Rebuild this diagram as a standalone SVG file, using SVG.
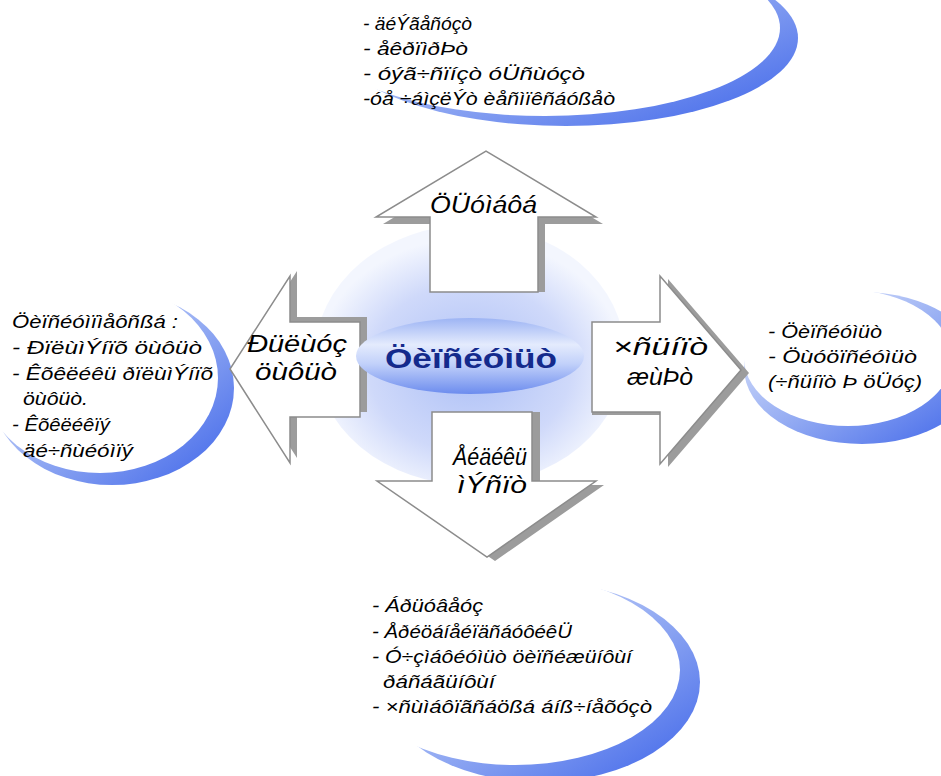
<svg xmlns="http://www.w3.org/2000/svg" width="941" height="776" viewBox="0 0 941 776">
<defs>
<linearGradient id="cres" x1="0" y1="0" x2="1" y2="1">
<stop offset="0" stop-color="#eef2fd"/>
<stop offset="0.5" stop-color="#97aef3"/>
<stop offset="1" stop-color="#3c63e9"/>
</linearGradient>
<radialGradient id="glow" cx="50%" cy="55%" r="50%">
<stop offset="0" stop-color="#adc0f6"/>
<stop offset="0.65" stop-color="#cfd9fa"/>
<stop offset="1" stop-color="#f3f6fe"/>
</radialGradient>
<linearGradient id="core" x1="0" y1="0" x2="0" y2="1">
<stop offset="0" stop-color="#9db4f4"/>
<stop offset="0.35" stop-color="#e4ebfd"/>
<stop offset="0.6" stop-color="#c2d1fa"/>
<stop offset="1" stop-color="#6c8cee"/>
</linearGradient>
<style>
.cb{fill:url(#cres)}
.cw{fill:#fff}
.shd{fill:#9c9c9c}
.face{fill:#fff;stroke:#8c8c8c;stroke-width:1.5;stroke-linejoin:miter}
.t{font-family:"Liberation Sans",Arial,sans-serif;font-style:italic;font-size:19px;fill:#000}
.a{font-family:"Liberation Sans",Arial,sans-serif;font-style:italic;font-size:23px;fill:#000}
.c{font-family:"Liberation Sans",Arial,sans-serif;font-weight:bold;font-size:28px;fill:#142a8c}
</style>
</defs>
<rect width="941" height="776" fill="#fff"/>

<g id="cloud-top">
<ellipse class="cb" cx="566" cy="38" rx="232" ry="88"/>
<ellipse class="cw" cx="545" cy="28" rx="235" ry="88"/>
<text class="t" x="363" y="30" textLength="109" lengthAdjust="spacingAndGlyphs">- äéÝãåñóçò</text>
<text class="t" x="363" y="55" textLength="105" lengthAdjust="spacingAndGlyphs">- åêðïìðÞò</text>
<text class="t" x="363" y="80" textLength="222" lengthAdjust="spacingAndGlyphs">- óýã÷ñïíçò óÜñùóçò</text>
<text class="t" x="363" y="105" textLength="252" lengthAdjust="spacingAndGlyphs">-óå ÷áìçëÝò èåñìïêñáóßåò</text>
</g>

<g id="cloud-left">
<ellipse class="cb" cx="112" cy="388" rx="122" ry="97"/>
<ellipse class="cw" cx="100" cy="378" rx="118" ry="95"/>
<text class="t" x="12" y="328" textLength="166" lengthAdjust="spacingAndGlyphs">Öèïñéóìïìåôñßá :</text>
<text class="t" x="12" y="354" textLength="190" lengthAdjust="spacingAndGlyphs">- ÐïëùìÝíïõ öùôüò</text>
<text class="t" x="12" y="380" textLength="201" lengthAdjust="spacingAndGlyphs">- Êõêëéêü ðïëùìÝíïõ</text>
<text class="t" x="23" y="405" textLength="65" lengthAdjust="spacingAndGlyphs">öùôüò.</text>
<text class="t" x="12" y="431" textLength="98" lengthAdjust="spacingAndGlyphs">- Êõêëéêïý</text>
<text class="t" x="23" y="457" textLength="110" lengthAdjust="spacingAndGlyphs">äé÷ñùéóìïý</text>
</g>

<g id="cloud-right">
<ellipse class="cb" cx="862" cy="368" rx="118" ry="76"/>
<ellipse class="cw" cx="848" cy="358" rx="104" ry="68"/>
<text class="t" x="768" y="338" textLength="114" lengthAdjust="spacingAndGlyphs">- Öèïñéóìüò</text>
<text class="t" x="768" y="363" textLength="149" lengthAdjust="spacingAndGlyphs">- Öùóöïñéóìüò</text>
<text class="t" x="768" y="388" textLength="154" lengthAdjust="spacingAndGlyphs">(÷ñüíïò Þ öÜóç)</text>
</g>

<g id="cloud-bottom">
<ellipse class="cb" cx="540" cy="682" rx="160" ry="100"/>
<ellipse class="cw" cx="515" cy="670" rx="165" ry="95"/>
<text class="t" x="372" y="612" textLength="111" lengthAdjust="spacingAndGlyphs">- Áðüóâåóç</text>
<text class="t" x="372" y="638" textLength="200" lengthAdjust="spacingAndGlyphs">- ÅðéöáíåéïäñáóôéêÜ</text>
<text class="t" x="372" y="663" textLength="260" lengthAdjust="spacingAndGlyphs">- Ó÷çìáôéóìüò öèïñéæüíôùí</text>
<text class="t" x="383" y="688" textLength="112" lengthAdjust="spacingAndGlyphs">ðáñáãüíôùí</text>
<text class="t" x="372" y="713" textLength="280" lengthAdjust="spacingAndGlyphs">- ×ñùìáôïãñáößá áíß÷íåõóçò</text>
</g>

<g id="glow-ellipse">
<ellipse cx="470" cy="355" rx="155" ry="130" fill="url(#glow)"/>
</g>

<g id="connectors">
<g id="arrow-top">
<polygon class="shd" points="437,292 437,224 383,224 493,158 603,224 545,224 545,292"/>
<polygon class="face" points="430,292 430,217 376,217 486,151 596,217 538,217 538,292"/>
<text class="a" x="430" y="213" textLength="107" lengthAdjust="spacingAndGlyphs">ÖÜóìáôá</text>
</g>
<g id="arrow-left">
<polygon class="shd" points="367,317 297,317 297,271 237,364 297,458 297,412 367,412"/>
<polygon class="face" points="360,322 290,322 290,276 230,369 290,463 290,417 360,417"/>
<text class="a" x="247" y="352" textLength="100" lengthAdjust="spacingAndGlyphs">Ðüëùóç</text>
<text class="a" x="255" y="380" textLength="82" lengthAdjust="spacingAndGlyphs">öùôüò</text>
</g>
<g id="arrow-right">
<polygon class="shd" points="592,325 668,325 668,279 749,373 668,467 668,415 592,415"/>
<polygon class="face" points="592,322 660,322 660,276 741,370 660,464 660,412 592,412"/>
<text class="a" x="613" y="355" textLength="95" lengthAdjust="spacingAndGlyphs">×ñüíïò</text>
<text class="a" x="627" y="385" textLength="66" lengthAdjust="spacingAndGlyphs">æùÞò</text>
</g>
<g id="arrow-bottom">
<polygon class="shd" points="440,412 440,485 385,485 495,561 604,485 540,485 540,412"/>
<polygon class="face" points="432,412 432,481 377,481 487,557 596,481 532,481 532,412"/>
<text class="a" x="453" y="465" textLength="74" lengthAdjust="spacingAndGlyphs">Åéäéêü</text>
<text class="a" x="457" y="493" textLength="70" lengthAdjust="spacingAndGlyphs">ìÝñïò</text>
</g>
</g>

<g id="center">
<ellipse cx="470" cy="356" rx="114" ry="38" fill="url(#core)"/>
<text class="c" x="385" y="368" textLength="172" lengthAdjust="spacingAndGlyphs">Öèïñéóìüò</text>
</g>
</svg>
